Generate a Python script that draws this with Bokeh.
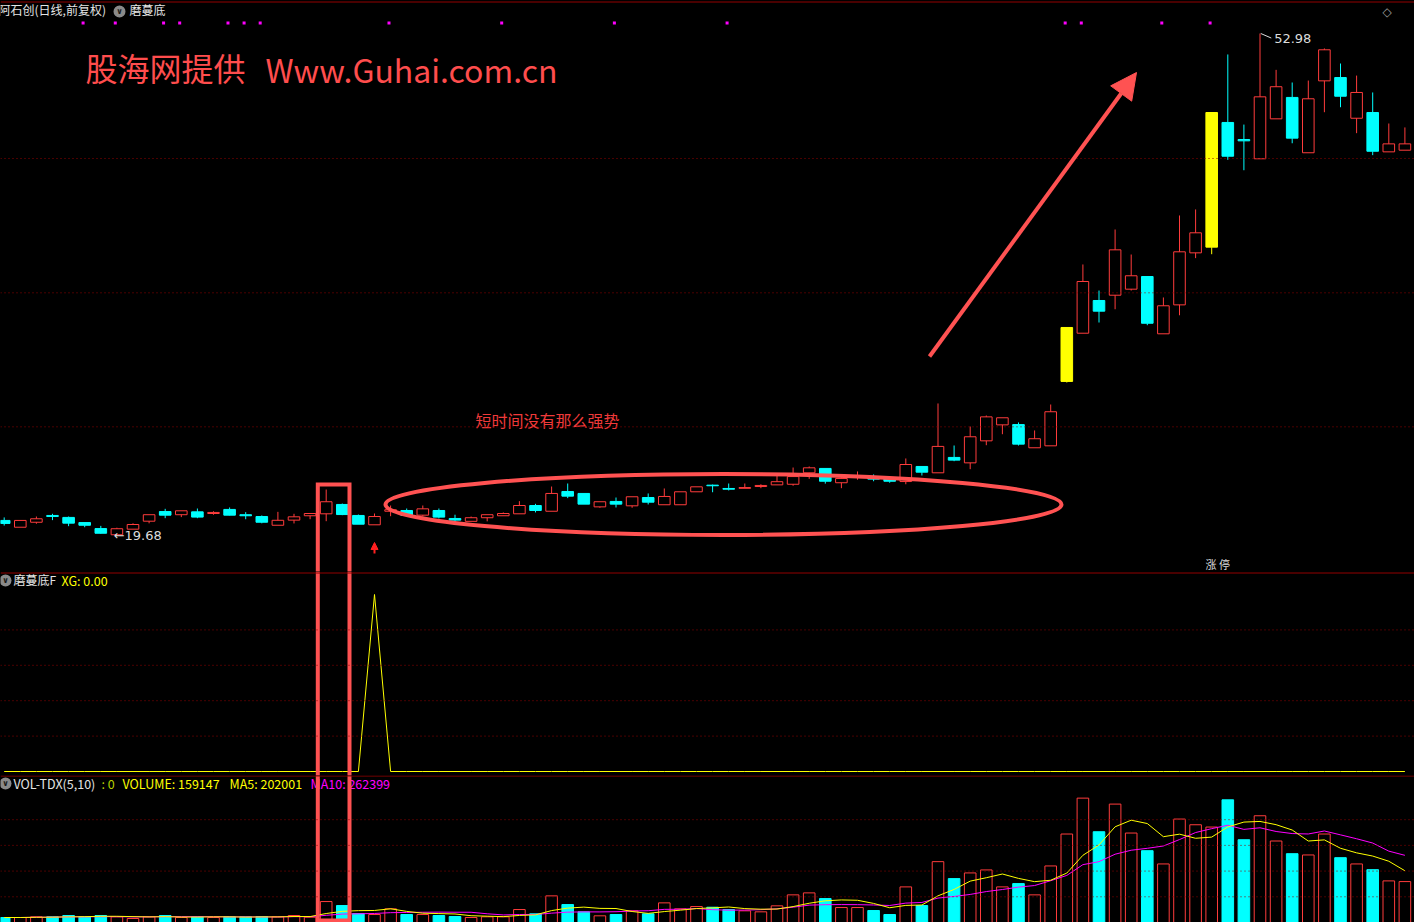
import numpy as np
import pandas as pd
from bokeh.plotting import figure
from bokeh.layouts import column
from bokeh.models import ColumnDataSource, Span, Arrow, NormalHead, Range1d
from bokeh.core.properties import value
from bokeh.embed import file_html
from bokeh.resources import INLINE

# ---------------- data ----------------
stock_title = "阿石创(日线,前复权)"
indicator_name = "磨蔓底"

opens = [20.68, 20.23, 20.56, 21.01, 20.88, 20.54, 20.14, 19.73, 20.10, 20.63,
         21.27, 21.06, 21.25, 21.14, 21.41, 21.06, 20.94, 20.36, 20.70, 20.99,
         21.12, 21.74, 21.01, 20.39, 21.29, 21.34, 21.03, 21.34, 20.81, 20.62,
         20.86, 20.99, 21.12, 21.67, 21.29, 22.60, 22.47, 21.58, 21.94, 21.65,
         22.20, 21.72, 21.72, 22.58, 23.02, 22.80, 22.81, 22.93, 23.04, 23.08,
         23.84, 24.13, 23.18, 23.59, 23.51, 23.44, 23.26, 24.26, 23.84, 24.86,
         24.50, 25.96, 27.02, 27.04, 25.50, 25.63, 29.90, 33.10, 35.27, 35.62,
         36.02, 36.86, 33.06, 34.98, 38.43, 38.81, 47.08, 45.95, 44.67, 47.32,
         48.74, 45.07, 49.84, 50.06, 47.36, 47.74, 45.13, 45.24]
highs = [20.88, 20.68, 20.94, 21.12, 20.94, 20.54, 20.32, 20.20, 20.49, 21.06,
         21.45, 21.32, 21.47, 21.29, 21.54, 21.23, 21.01, 21.25, 21.12, 21.14,
         22.73, 21.80, 21.07, 21.14, 21.67, 21.47, 21.67, 21.47, 21.06, 20.94,
         21.06, 21.21, 21.96, 21.78, 22.93, 23.13, 22.47, 21.92, 22.20, 22.25,
         22.47, 22.80, 22.58, 22.91, 23.06, 23.13, 23.13, 23.08, 23.68, 24.19,
         24.26, 24.13, 23.66, 23.93, 23.73, 23.44, 24.79, 24.26, 28.44, 25.65,
         26.91, 27.64, 27.49, 27.18, 26.65, 28.37, 33.48, 37.66, 35.93, 39.98,
         38.32, 36.86, 35.47, 40.91, 41.31, 47.74, 51.59, 46.94, 52.98, 50.57,
         49.73, 49.86, 51.99, 50.99, 50.19, 49.07, 47.01, 46.75]
lows = [20.34, 20.23, 20.46, 20.70, 20.30, 20.23, 19.79, 19.68, 20.10, 20.49,
        20.83, 20.90, 20.83, 21.06, 21.01, 20.76, 20.49, 20.36, 20.48, 20.76,
        20.63, 21.03, 20.43, 20.39, 20.96, 21.01, 20.94, 20.81, 20.61, 20.62,
        20.62, 20.99, 21.12, 21.21, 21.29, 22.16, 21.76, 21.52, 21.54, 21.52,
        21.74, 21.72, 21.72, 22.58, 22.55, 22.67, 22.81, 22.82, 23.04, 22.98,
        23.44, 23.12, 22.82, 23.38, 23.28, 23.18, 23.08, 23.66, 23.84, 24.61,
        24.08, 25.67, 26.40, 25.65, 25.50, 25.63, 29.83, 33.10, 33.81, 34.69,
        35.93, 33.63, 33.06, 34.29, 38.08, 38.34, 44.60, 43.91, 44.67, 47.32,
        45.70, 45.07, 47.76, 48.09, 46.37, 44.91, 45.13, 45.24]
closes = [20.48, 20.68, 20.79, 20.94, 20.50, 20.36, 19.83, 20.13, 20.41, 21.06,
          21.03, 21.32, 20.90, 21.21, 21.03, 20.99, 20.56, 20.69, 20.92, 21.14,
          21.92, 21.07, 20.43, 20.94, 21.39, 21.01, 21.45, 20.90, 20.70, 20.86,
          21.06, 21.14, 21.67, 21.34, 22.47, 22.29, 21.76, 21.92, 21.76, 22.25,
          21.89, 22.27, 22.58, 22.91, 22.98, 22.75, 22.86, 23.00, 23.25, 23.59,
          24.17, 23.28, 23.46, 23.66, 23.42, 23.28, 24.39, 23.88, 25.59, 24.68,
          26.23, 27.55, 27.49, 25.74, 26.10, 27.89, 33.48, 36.53, 34.56, 38.63,
          36.91, 33.76, 34.92, 38.50, 39.76, 47.74, 44.84, 45.86, 48.78, 49.45,
          46.04, 48.65, 51.90, 48.82, 49.07, 45.17, 45.66, 45.66]
volumes = [19400, 19400, 22100, 22100, 27200, 22100, 27200, 22100, 15500, 22100,
           27200, 19400, 22100, 19400, 22100, 22100, 23300, 22100, 27200, 20600,
           81500, 66000, 34900, 31000, 53200, 31000, 31000, 27200, 23300, 19400,
           22100, 22100, 50400, 33800, 103600, 69800, 41500, 26000, 31000, 45400,
           33800, 76400, 53200, 62100, 59400, 50400, 45400, 41500, 64800, 107500,
           115200, 93100, 58200, 58200, 46600, 31000, 138500, 66000, 236700, 170700,
           192800, 204500, 138500, 151300, 107500, 220000, 344200, 483800, 353100, 460600,
           348000, 279400, 227800, 402400, 380200, 371300, 477200, 322000, 415200, 317000,
           267700, 262700, 344200, 252200, 227800, 205600, 161800, 159147]
xg_values = [0, 0, 0, 0, 0, 0, 0, 0, 0, 0,
             0, 0, 0, 0, 0, 0, 0, 0, 0, 0,
             0, 0, 0, 1, 0, 0, 0, 0, 0, 0,
             0, 0, 0, 0, 0, 0, 0, 0, 0, 0,
             0, 0, 0, 0, 0, 0, 0, 0, 0, 0,
             0, 0, 0, 0, 0, 0, 0, 0, 0, 0,
             0, 0, 0, 0, 0, 0, 0, 0, 0, 0,
             0, 0, 0, 0, 0, 0, 0, 0, 0, 0,
             0, 0, 0, 0, 0, 0, 0, 0]
signal_days = [5, 7, 10, 11, 14, 15, 16, 24, 31, 38, 45, 66, 67, 72, 75]
price_grid = [44.69, 35.78, 26.89]
xg_grid = [0.2, 0.4, 0.6, 0.8]
vol_grid = [100000, 200000, 300000, 400000]
low_label = "19.68"
high_label = "52.98"
vol_header_volume = "VOLUME: 159147"
vol_header_ma5 = "MA5: 202001"
vol_header_ma10 = "MA10: 262399"

# ---------------- styles ----------------
RED = "#ff3c3c"
CYAN = "#00ffff"
YEL = "#ffff00"
MAG = "#ff00ff"
DKRED = "#930000"
MARK = "#ff5252"
WHITE = "#e4e4e4"
CJK = "Noto Sans CJK SC"

n = len(closes)
idx = np.arange(n)
o = np.array(opens); h = np.array(highs); l = np.array(lows); c = np.array(closes)
v = np.array(volumes, dtype=float)
prev = np.r_[np.nan, c[:-1]]
limit = np.nan_to_num(c / prev) >= 1.19
up = (c >= o) & ~limit
down = c < o

X0 = -3.7 / 16.1
X1 = (1414 - 3.7) / 16.1
PX = 15.075            # px per price unit
PTOP = 55.17
H1, H2, H3 = 571, 204, 147
VS = 3890.0            # volume per px


def make_fig(hh, y0, y1):
    p = figure(width=1414, height=hh, x_range=Range1d(X0, X1), y_range=Range1d(y0, y1),
               output_backend="svg", toolbar_location=None,
               x_axis_location=None, y_axis_location=None, min_border=0,
               background_fill_color="black", border_fill_color="black",
               outline_line_color=None)
    p.grid.visible = False
    return p


def txt(p, x, y, s, color, size, align="left", bold=False, font=CJK):
    p.text(x=[x], y=[y], text=[s], text_color=color, text_font=value(font),
           text_font_size=value(size), text_align=align, text_baseline="middle",
           text_font_style="bold" if bold else "normal")


def icon(p, x, y):
    p.scatter(x=[x], y=[y], marker="circle", size=12, fill_color="#8a8a8a", line_color=None)
    txt(p, x, y, "∨", "#1a1a1a", "8px", align="center", bold=True, font="DejaVu Sans")


def pm(py):
    return PTOP - py / PX


def ix(px):
    return (px - 3.7) / 16.1


# ================= main price panel =================
p1 = make_fig(H1, PTOP - H1 / PX, PTOP)
for gp in price_grid:
    p1.add_layout(Span(location=gp, dimension="width", line_color=DKRED, line_width=1, line_dash="1 3"))
p1.add_layout(Span(location=pm(1.5), dimension="width", line_color=DKRED, line_width=1))

top = np.maximum(o, c); bot = np.minimum(o, c)


def candles(mask, color, filled):
    src = ColumnDataSource(dict(x=idx[mask], top=top[mask], bot=bot[mask], h=h[mask], l=l[mask]))
    p1.segment(x0="x", y0="top", x1="x", y1="h", source=src, line_color=color, line_width=1)
    p1.segment(x0="x", y0="l", x1="x", y1="bot", source=src, line_color=color, line_width=1)
    p1.vbar(x="x", width=0.72, top="top", bottom="bot", source=src,
            fill_color=color if filled else None, line_color=color, line_width=1)


candles(up, RED, False)
candles(down, CYAN, True)
candles(limit, YEL, True)

# signal dots
p1.scatter(x=np.array(signal_days) - 0.1, y=[pm(22.5)] * len(signal_days), marker="square",
           size=3, fill_color=MAG, line_color=None)

# header
txt(p1, ix(-2), pm(9), stock_title, WHITE, "12px")
icon(p1, ix(119), pm(11))
txt(p1, ix(129), pm(9), indicator_name, WHITE, "12px")
txt(p1, ix(1382), pm(11), "◇", "#9a9a9a", "12px", font="DejaVu Sans")

# watermark & notes
txt(p1, ix(85), pm(66.5), "股海网提供", "#ff4d4d", "32px")
txt(p1, ix(265), pm(68), "Www.Guhai.com.cn", "#ff4d4d", "32px")
txt(p1, ix(475), pm(419.5), "短时间没有那么强势", "#f03a3a", "16px")

# low / high labels
lo_i = int(np.argmin(l)); hi_i = int(np.argmax(h))
txt(p1, lo_i - 0.2, l[lo_i], "←" + low_label, "#dcdcdc", "13px", font="DejaVu Sans")
p1.segment(x0=[hi_i + 0.05], y0=[h[hi_i]], x1=[hi_i + 0.7], y1=[h[hi_i] - 0.3],
           line_color="#dcdcdc", line_width=1)
txt(p1, hi_i + 0.88, h[hi_i] - 0.33, high_label, "#dcdcdc", "13px", font="DejaVu Sans")

# limit-up tag
txt(p1, ix(1205), pm(563), "涨 停", "#dcdcdc", "11px")

# signal arrow below XG day
sig = int(np.argmax(xg_values))
p1.add_layout(Arrow(end=NormalHead(size=7, fill_color="#ff2020", line_color="#ff2020"),
                    x_start=sig, y_start=pm(553), x_end=sig, y_end=pm(542),
                    line_color="#ff2020", line_width=2))

# ellipse
p1.ellipse(x=[ix(723)], y=[pm(504)], width=[676 / 16.1], height=[61 / PX],
           fill_color=None, line_color=MARK, line_width=4)

# big arrow
p1.add_layout(Arrow(end=NormalHead(size=26, fill_color=MARK, line_color=MARK),
                    x_start=ix(929), y_start=pm(356), x_end=ix(1136), y_end=pm(72),
                    line_color=MARK, line_width=4))

# marker box (top part)
bx0, bx1 = ix(317.3), ix(349)
p1.multi_line(xs=[[bx0, bx0, bx1, bx1]], ys=[[pm(600), pm(484), pm(484), pm(600)]],
              line_color=MARK, line_width=4, line_join="miter")

# ================= indicator panel =================
def vi(py):
    return (771 - py) / 177.0


p2 = make_fig(H2, vi(571 + H2), vi(571))
for g in xg_grid:
    p2.add_layout(Span(location=g, dimension="width", line_color=DKRED, line_width=1, line_dash="1 3"))
p2.add_layout(Span(location=vi(572.5), dimension="width", line_color=DKRED, line_width=1))
p2.line(idx, xg_values, line_color=YEL, line_width=1)
icon(p2, ix(5), vi(580))
txt(p2, ix(13), vi(579), indicator_name + "F", WHITE, "12px")
txt(p2, ix(61), vi(579.5), "XG: 0.00", YEL, "12.5px")
p2.multi_line(xs=[[bx0, bx0], [bx1, bx1]], ys=[[vi(560), vi(790)], [vi(560), vi(790)]],
              line_color=MARK, line_width=4)

# ================= volume panel =================
def vv(py):
    return (922 - py) * VS


p3 = make_fig(H3, 0, H3 * VS)
for g in vol_grid:
    p3.add_layout(Span(location=g, dimension="width", line_color=DKRED, line_width=1, line_dash="1 3"))
p3.add_layout(Span(location=vv(775.5), dimension="width", line_color=DKRED, line_width=1))

vup = c >= o
sv_up = ColumnDataSource(dict(x=idx[vup], top=v[vup]))
sv_dn = ColumnDataSource(dict(x=idx[~vup], top=v[~vup]))
p3.vbar(x="x", width=0.72, top="top", bottom=-20000, source=sv_up,
        fill_color=None, line_color=RED, line_width=1)
p3.vbar(x="x", width=0.72, top="top", bottom=-20000, source=sv_dn,
        fill_color=CYAN, line_color=CYAN, line_width=1)
ma5 = pd.Series(v).rolling(5, min_periods=1).mean().values
ma10 = pd.Series(v).rolling(10, min_periods=1).mean().values
p3.line(idx, ma10, line_color=MAG, line_width=1)
p3.line(idx, ma5, line_color=YEL, line_width=1)

icon(p3, ix(5), vv(783))
txt(p3, ix(13), vv(782.5), "VOL-TDX(5,10)", WHITE, "12.5px")
txt(p3, ix(101), vv(782.5), ": 0", "#b8d000", "12.5px")
txt(p3, ix(122), vv(782.5), vol_header_volume, YEL, "12.5px")
txt(p3, ix(229), vv(782.5), vol_header_ma5, YEL, "12.5px")
txt(p3, ix(310), vv(782.5), vol_header_ma10, MAG, "12.5px")

p3.multi_line(xs=[[bx0, bx0, bx1, bx1]], ys=[[vv(760), vv(920), vv(920), vv(760)]],
              line_color=MARK, line_width=4, line_join="miter")

layout = column(p1, p2, p3, spacing=0)
html = file_html(layout, INLINE)
html = html.replace("<head>", "<head><style>html,body{margin:0;padding:0;background:#000;}</style>", 1)
open("out.html", "w").write(html)
